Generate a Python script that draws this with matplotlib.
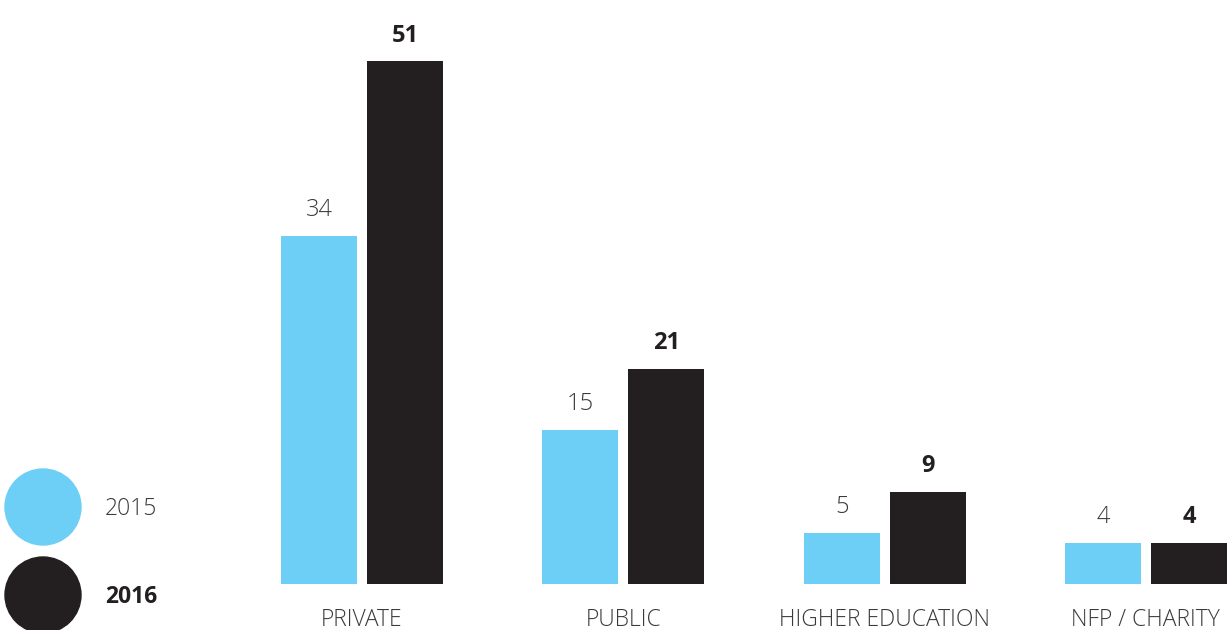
import matplotlib
matplotlib.use("Agg")
import matplotlib.pyplot as plt
from matplotlib.patches import Circle
import numpy as np

categories = ["PRIVATE", "PUBLIC", "HIGHER EDUCATION", "NFP / CHARITY"]
series_names = ["2015", "2016"]
values_2015 = [34, 15, 5, 4]
values_2016 = [51, 21, 9, 4]

BLUE = "#6DCFF6"
BLACK = "#231F20"
W, H = 1227, 630
fig = plt.figure(figsize=(W / 100, H / 100), dpi=100)

# main axes in pixel geometry
ax_left, ax_right, ax_bottom, ax_top = 180, 1227, 584, 0
ax = fig.add_axes([ax_left / W, (H - ax_bottom) / H, (ax_right - ax_left) / W, (ax_bottom - ax_top) / H])
px_per_unit = 261.3
x0 = 362
ax.set_xlim((ax_left - x0) / px_per_unit, (ax_right - x0) / px_per_unit)
ax.set_ylim(0, 57)
ax.axis("off")

x = np.arange(len(categories))
bw = 76 / px_per_unit
off = 43 / px_per_unit
font = ["Open Sans", "DejaVu Sans"]
ax.bar(x - off, values_2015, width=bw, color=BLUE)
ax.bar(x + off, values_2016, width=bw, color=BLACK)
for xi, v in zip(x, values_2015):
    ax.annotate(str(v), (xi - off, v), xytext=(0, 10), textcoords="offset points",
                ha="center", va="bottom", fontsize=17, color="#3a3a3a",
                family=font, fontweight="light")
for xi, v in zip(x, values_2016):
    ax.annotate(str(v), (xi + off, v), xytext=(0, 10), textcoords="offset points",
                ha="center", va="bottom", fontsize=17, color=BLACK,
                family=font, fontweight="bold")
for xi, c in zip(x, categories):
    ax.annotate(c, (xi, 0), xytext=(0, -17), textcoords="offset points",
                ha="center", va="top", fontsize=16.5, color="#3a3a3a",
                family=font, fontweight="light", annotation_clip=False)

# legend
for i, (name, col) in enumerate(zip(series_names, [BLUE, BLACK])):
    cy = 507 + i * 88
    fig.add_artist(Circle((43 / 100, (H - cy) / 100), 38 / 100, color=col,
                          transform=fig.dpi_scale_trans, clip_on=False))
    fig.text(131 / W, (H - cy - 2) / H, name, ha="center", va="center", fontsize=16.5,
             color="#3a3a3a" if i == 0 else BLACK, family=font,
             fontweight="light" if i == 0 else "bold")

fig.savefig("out.png", dpi=100)
